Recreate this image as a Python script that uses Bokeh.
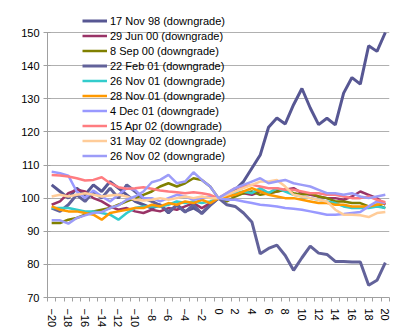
from bokeh.plotting import figure
from bokeh.models import FixedTicker, Legend, LegendItem, Range1d
from bokeh.embed import file_html
from bokeh.resources import INLINE

days = list(range(-20, 21))
x_tick_labels = list(range(-20, 21, 2))
y_ticks = [70, 80, 90, 100, 110, 120, 130, 140, 150]

names = ["17 Nov 98 (downgrade)", "29 Jun 00 (downgrade)", "8 Sep 00 (downgrade)",
         "22 Feb 01 (downgrade)", "26 Nov 01 (downgrade)", "28 Nov 01 (downgrade)",
         "4 Dec 01 (downgrade)", "15 Apr 02 (downgrade)", "31 May 02 (downgrade)",
         "26 Nov 02 (downgrade)"]

nov98 = [104, 102, 100, 103, 101, 104, 102, 105, 103, 101, 99, 98, 97, 98, 95.5, 98, 96, 97, 95.5, 98,
         100,
         101, 102.5, 105, 109, 113, 121.4, 124.2, 122.4, 128.2, 133.1, 127.2, 122.2, 124.1, 122.1,
         131.7, 136.4, 134.4, 146, 144.3, 150]
jun00 = [98, 99, 101.5, 102.5, 102, 100, 99, 97.5, 96.5, 97, 96, 95.5, 96.5, 96, 97, 96.5, 97.5, 98.5, 97, 98.5,
         100,
         100.5, 101, 101.5, 101, 102, 101.5, 102, 102.5, 103, 101.5, 101, 100.5, 100, 100, 99.5,
         100.5, 102, 101, 100, 98]
sep00 = [92.5, 92.5, 93.5, 94, 95, 96, 96.5, 97, 98, 99, 100, 101, 102, 103.5, 104.5, 103.5, 104.5, 106, 105.5, 103.5,
         100,
         99, 100.5, 101.5, 102, 101, 101.5, 102, 102.5, 101.5, 101, 101.5, 100.5, 100, 99, 99,
         98.5, 98.5, 97.5, 98, 97]
feb01 = [97, 96, 98, 101, 99, 102, 100, 103, 100, 104, 102, 100, 99, 97.8, 96, 97.8, 95.8, 98, 95.3, 97.8,
         100,
         98, 97.5, 95.5, 92.8, 83.2, 84.8, 85.8, 82.7, 78.2, 82, 85.5, 83.4, 83, 80.9, 80.9,
         80.7, 80.7, 73.7, 75.2, 80.5]
nov01a = [97, 97, 97, 96.5, 96, 96, 95.5, 95, 93.5, 95.5, 97, 97.5, 97.5, 97.5, 98, 99, 98.5, 99, 98.5, 99,
          100,
          101, 101.5, 102, 101.5, 103, 101.5, 103, 102, 101, 100.5, 100, 99.5, 99, 98.5, 97.5,
          97, 97, 97, 97.5, 97]
nov01b = [97.5, 96.5, 96, 96, 95.5, 95, 93.5, 95.5, 96, 96.5, 97, 97, 98, 97.5, 98.5, 98, 99, 98.5, 99.5, 98.5,
          100,
          100.5, 101, 102, 103, 102, 101, 100.5, 100, 100, 99.5, 99, 98.5, 98.5, 98, 98,
          97.5, 97.5, 97.5, 98, 98.5]
dec01 = [108, 107.5, 106.8, 102, 100, 102.3, 100.5, 99, 101, 103, 102.5, 100, 100, 99, 100, 101, 100.5, 99.5, 100, 100.5,
         100,
         99.5, 99.5, 99, 98.5, 98, 97.8, 97.5, 97, 96.8, 96.5, 96, 95.5, 95, 95, 95.2,
         95.5, 95.8, 97.5, 99, 98.5]
apr02 = [107, 106.8, 106.5, 106, 105.3, 105.5, 106.3, 104.5, 103.3, 102.8, 103, 103.3, 102.8, 102.3, 102, 101.8, 101.5, 101.8, 101.5, 101,
         100,
         101.5, 103, 103.5, 104, 103.5, 103, 103, 102.5, 102.5, 102, 101.5, 101.5, 101, 101, 100.5,
         100, 100, 100.5, 99.5, 98.8]
may02 = [100.5, 101, 100.5, 101, 101.5, 101, 100.5, 100.8, 101, 100.5, 99.5, 99.3, 99.5, 100, 99.5, 100, 100.5, 100, 100.5, 100,
         100,
         101, 102, 103, 104, 105, 105, 105.5, 103.5, 101, 100.5, 100, 99.5, 99, 96.5, 95,
         95, 94.8, 94.3, 95.5, 95.8]
nov02 = [93.3, 93.3, 92.3, 94, 94.8, 95.5, 95.8, 97, 97.8, 99.5, 100.5, 102, 104.8, 105.5, 107, 104.5, 105, 107.8, 105.5, 103.5,
         100,
         101.5, 103, 104, 105, 106, 104.5, 105, 105.5, 104.5, 104, 103.5, 102.5, 101.5, 101.5, 101,
         101.5, 100.5, 100, 100.5, 101]

series = [nov98, jun00, sep00, feb01, nov01a, nov01b, dec01, apr02, may02, nov02]
colors = ["#575793", "#993366", "#808000", "#62629A", "#33CCCC", "#FF9900",
          "#9999FF", "#FF7C80", "#FFCC99", "#9C9CF8"]
widths = [3, 2.5, 2.5, 3, 2.5, 2.5, 2.5, 2.5, 2.5, 2.5]

# frame spans from the top of the page so the legend (which sits above the 150 line) is not clipped
px_per_unit = 265 / 80.0
y_top = 150 + 32 / px_per_unit

p = figure(width=417, height=330, output_backend="svg", toolbar_location=None,
           x_range=Range1d(-20.5, 20.5), y_range=Range1d(70, y_top),
           min_border_left=47, min_border_right=28, min_border_top=0, min_border_bottom=33)
p.outline_line_color = None
p.background_fill_color = "white"
p.border_fill_color = "white"

p.xgrid.visible = False
p.ygrid.grid_line_color = "#B0B0B0"
p.ygrid.grid_line_width = 1
p.ygrid.ticker = FixedTicker(ticks=y_ticks)

p.yaxis.ticker = FixedTicker(ticks=y_ticks)
p.yaxis.bounds = (70, 150)
p.yaxis.axis_line_color = "#A0A0A0"
p.yaxis.major_tick_line_color = "#A0A0A0"
p.yaxis.major_tick_in = 3
p.yaxis.major_tick_out = 4
p.yaxis.minor_tick_line_color = None
p.yaxis.major_label_standoff = 4
p.yaxis.major_label_text_font = "Liberation Sans"
p.yaxis.major_label_text_font_size = "11px"
p.yaxis.major_label_text_color = "black"

p.xaxis.ticker = FixedTicker(ticks=x_tick_labels, minor_ticks=[d - 0.5 for d in days] + [20.5])
p.xaxis.axis_line_color = "#A0A0A0"
p.xaxis.major_tick_line_color = None
p.xaxis.major_tick_in = 0
p.xaxis.major_tick_out = 0
p.xaxis.minor_tick_line_color = "#A0A0A0"
p.xaxis.minor_tick_in = 0
p.xaxis.minor_tick_out = 4
p.xaxis.major_label_orientation = "vertical"
p.xaxis.major_label_standoff = 7
p.xaxis.major_label_text_font = "Liberation Sans"
p.xaxis.major_label_text_font_size = "11px"
p.xaxis.major_label_text_color = "black"

items = []
for name, vals, col, w in zip(names, series, colors, widths):
    r = p.line(days, vals, line_color=col, line_width=w)
    items.append(LegendItem(label=name, renderers=[r]))

legend = Legend(items=items, location=(35, 135))
legend.background_fill_alpha = 0
legend.border_line_color = None
legend.padding = 0
legend.margin = 0
legend.spacing = 2
legend.glyph_width = 25
legend.glyph_height = 13
legend.label_height = 13
legend.label_standoff = 3
legend.label_text_font = "Liberation Sans"
legend.label_text_font_size = "11px"
legend.label_text_color = "black"
p.add_layout(legend)

open("out.html", "w").write(file_html(p, INLINE))
